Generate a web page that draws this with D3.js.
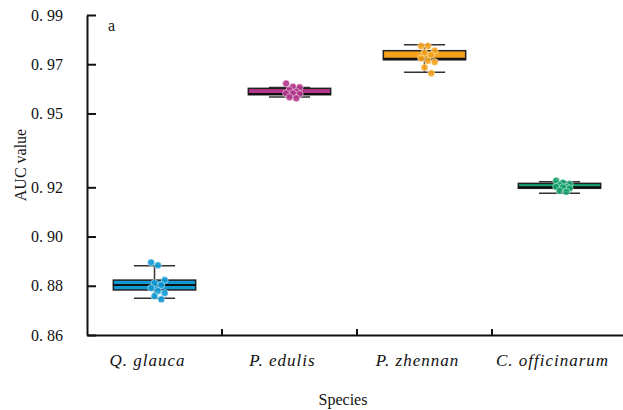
<!DOCTYPE html>
<html>
<head>
<meta charset="utf-8">
<script src="https://cdn.jsdelivr.net/npm/d3@7"></script>
<style>
  body { margin: 0; background: #fff; }
  text { font-family: "Liberation Serif", "DejaVu Serif", serif; fill: #111; }
</style>
</head>
<body>
<div id="chart"></div>
<script>
// species on the x axis
var species = ["Q. glauca", "P. edulis", "P. zhennan", "C. officinarum"];
var colors = ["#0f9ad6", "#b5358c", "#f5a21c", "#12a06c"];

// AUC of each run
var aucQglauca  = [0.8895, 0.8883, 0.8823, 0.8811, 0.8803, 0.8791, 0.8779, 0.8771, 0.8758, 0.8745];
var aucPedulis  = [0.9622, 0.9609, 0.9606, 0.9595, 0.9589, 0.9582, 0.9582, 0.9579, 0.9566, 0.9562];
var aucPzhennan = [0.9774, 0.9774, 0.9755, 0.9747, 0.9738, 0.9724, 0.9714, 0.9709, 0.9687, 0.9663];
var aucCoff     = [0.9227, 0.9219, 0.9213, 0.9209, 0.9202, 0.9202, 0.9200, 0.9196, 0.9186, 0.9182];

// box statistics per species
var q1          = [0.8783, 0.9576, 0.9718, 0.9196];
var median      = [0.8803, 0.9579, 0.9722, 0.9200];
var q3          = [0.8823, 0.9602, 0.9755, 0.9216];
var whiskerLow  = [0.8749, 0.9567, 0.9667, 0.9176];
var whiskerHigh = [0.8881, 0.9605, 0.9779, 0.9223];

var yTicks = [0.86, 0.88, 0.90, 0.92, 0.95, 0.97, 0.99];

var runs = [aucQglauca, aucPedulis, aucPzhennan, aucCoff];

var width = 623, height = 410;
var plotLeft = 87, plotTop = 15, plotBottom = 335;

var svg = d3.select("#chart")
  .append("svg")
  .attr("width", width).attr("height", height);

var x = d3.scaleBand().domain(species).range([plotLeft, 627]);
var y = d3.scaleLinear().domain([0.86, 0.99]).range([plotBottom, plotTop]);

// y axis
var yAxis = svg.append("g")
  .attr("transform", "translate(" + plotLeft + ",0)")
  .call(d3.axisLeft(y).tickValues(yTicks).tickSizeInner(-9).tickSizeOuter(0).tickPadding(24)
    .tickFormat(function(d) { return d3.format(".2f")(d).replace(".", ". "); }));
yAxis.select(".domain").attr("stroke", "#111").attr("stroke-width", 2);
yAxis.selectAll(".tick line").attr("stroke", "#111").attr("stroke-width", 2);
yAxis.selectAll("text").style("font-size", "16px").attr("fill", "#222");

// x axis
var xAxis = svg.append("g")
  .attr("transform", "translate(0," + plotBottom + ")")
  .call(d3.axisBottom(x).tickSize(0).tickPadding(19));
xAxis.select(".domain").attr("stroke", "#111").attr("stroke-width", 2);
xAxis.selectAll("text").style("font-size", "17px").style("font-style", "italic")
  .style("letter-spacing", "1px").attr("dx", -7).attr("fill", "#222");

// small ticks between species
svg.append("g").selectAll("line")
  .data(species.slice(1))
  .join("line")
  .attr("x1", function(d) { return x(d); }).attr("x2", function(d) { return x(d); })
  .attr("y1", plotBottom).attr("y2", plotBottom - 6)
  .attr("stroke", "#111").attr("stroke-width", 2);

var bw = x.bandwidth() * 0.61;
var capW = bw / 2;

var boxes = svg.append("g").selectAll("g")
  .data(species)
  .join("g")
  .attr("transform", function(d) { return "translate(" + (x(d) + x.bandwidth() / 2) + ",0)"; });

// whiskers
boxes.append("line")
  .attr("x1", 0).attr("x2", 0)
  .attr("y1", function(d, i) { return y(whiskerLow[i]); })
  .attr("y2", function(d, i) { return y(whiskerHigh[i]); })
  .attr("stroke", "#333").attr("stroke-width", 1.5);
boxes.append("line")
  .attr("x1", -capW / 2).attr("x2", capW / 2)
  .attr("y1", function(d, i) { return y(whiskerHigh[i]); })
  .attr("y2", function(d, i) { return y(whiskerHigh[i]); })
  .attr("stroke", "#333").attr("stroke-width", 1.5);
boxes.append("line")
  .attr("x1", -capW / 2).attr("x2", capW / 2)
  .attr("y1", function(d, i) { return y(whiskerLow[i]); })
  .attr("y2", function(d, i) { return y(whiskerLow[i]); })
  .attr("stroke", "#333").attr("stroke-width", 1.5);

// box
boxes.append("rect")
  .attr("x", -bw / 2).attr("width", bw)
  .attr("y", function(d, i) { return y(q3[i]); })
  .attr("height", function(d, i) { return y(q1[i]) - y(q3[i]); })
  .attr("fill", function(d, i) { return colors[i]; })
  .attr("stroke", "#222").attr("stroke-width", 1.5);

// median
boxes.append("line")
  .attr("x1", -bw / 2).attr("x2", bw / 2)
  .attr("y1", function(d, i) { return y(median[i]); })
  .attr("y2", function(d, i) { return y(median[i]); })
  .attr("stroke", "#111").attr("stroke-width", 2);

// points, spread a little sideways (slightly right of centre as in the figure)
boxes.each(function(d, i) {
  d3.select(this).selectAll("circle")
    .data(runs[i])
    .join("circle")
    .attr("cx", function(v, j) { return ((j * 7) % 5 - 1) * 3.4; })
    .attr("cy", function(v) { return y(v); })
    .attr("r", 3.5)
    .attr("fill", colors[i])
    .attr("fill-opacity", 0.9)
    .attr("stroke", "#fff").attr("stroke-opacity", 0.6).attr("stroke-width", 0.8);
});

// labels
svg.append("text")
  .attr("transform", "translate(26,165) rotate(-90)")
  .attr("text-anchor", "middle")
  .style("font-size", "16px")
  .text("AUC value");

svg.append("text")
  .attr("x", 343).attr("y", 405)
  .attr("text-anchor", "middle")
  .style("font-size", "16px")
  .text("Species");

svg.append("text")
  .attr("x", 108).attr("y", 31)
  .style("font-size", "16px")
  .text("a");
</script>
</body>
</html>
